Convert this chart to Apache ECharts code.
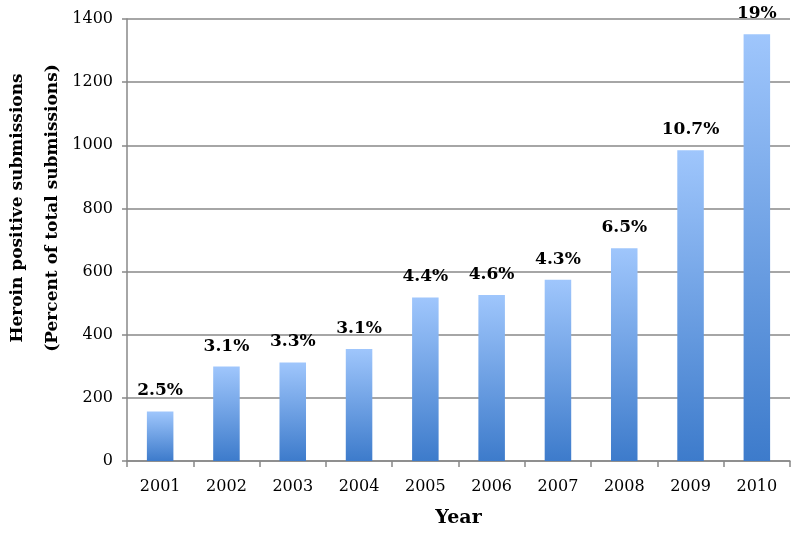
<!DOCTYPE html>
<html>
<head>
<meta charset="utf-8">
<script src="https://cdn.jsdelivr.net/npm/echarts@6/dist/echarts.min.js"></script>
<style>html,body{margin:0;padding:0;background:#fff}#c{width:800px;height:534px}</style>
</head>
<body>
<div id="c"></div>
<script>
const years = ['2001','2002','2003','2004','2005','2006','2007','2008','2009','2010'];
const submissions = [157, 299, 312, 355, 518, 526, 574, 674, 984, 1352];
const percentLabels = ['2.5%','3.1%','3.3%','3.1%','4.4%','4.6%','4.3%','6.5%','10.7%','19%'];
const yTitle = 'Heroin positive submissions\n(Percent of total submissions)';

const chart = echarts.init(document.getElementById('c'), null, {renderer:'canvas'});
const serif = '"DejaVu Serif", "Liberation Serif", serif';
chart.setOption({
  animation: false,
  grid: {left: 127, right: 10, top: 19, bottom: 73, containLabel: false, outerBoundsMode: 'none'},
  graphic: [{
    type: 'text',
    x: 35, y: 208,
    rotation: Math.PI / 2,
    style: {
      text: yTitle,
      font: 'bold 17px ' + serif,
      fill: '#000',
      textAlign: 'center',
      textVerticalAlign: 'middle',
      lineHeight: 35
    }
  }],
  xAxis: {
    type: 'category',
    data: years,
    name: 'Year',
    nameLocation: 'middle',
    nameGap: 48,
    nameTextStyle: {fontFamily: serif, fontWeight: 'bold', fontSize: 19, color: '#000'},
    axisLine: {lineStyle: {color: '#888', width: 1.5}},
    axisTick: {show: true, length: 6, lineStyle: {color: '#888', width: 1.5}},
    axisLabel: {fontFamily: serif, fontSize: 16, color: '#000', margin: 18}
  },
  yAxis: {
    type: 'value',
    min: 0, max: 1400, interval: 200,
    axisLine: {show: true, lineStyle: {color: '#888', width: 1.5}},
    axisTick: {show: true, length: 5, lineStyle: {color: '#888', width: 1.5}},
    splitLine: {lineStyle: {color: '#888', width: 1.5}},
    axisLabel: {fontFamily: serif, fontSize: 16, color: '#000', margin: 14, formatter: v => String(v)}
  },
  series: [{
    type: 'bar',
    data: submissions,
    barWidth: '40%',
    itemStyle: {
      color: new echarts.graphic.LinearGradient(0, 0, 0, 1, [
        {offset: 0, color: '#9fc6fc'},
        {offset: 1, color: '#3d7bcb'}
      ])
    },
    label: {
      show: true,
      position: 'top',
      distance: 12,
      formatter: p => percentLabels[p.dataIndex],
      fontFamily: serif, fontWeight: 'bold', fontSize: 17, color: '#000'
    }
  }]
});
</script>
</body>
</html>
